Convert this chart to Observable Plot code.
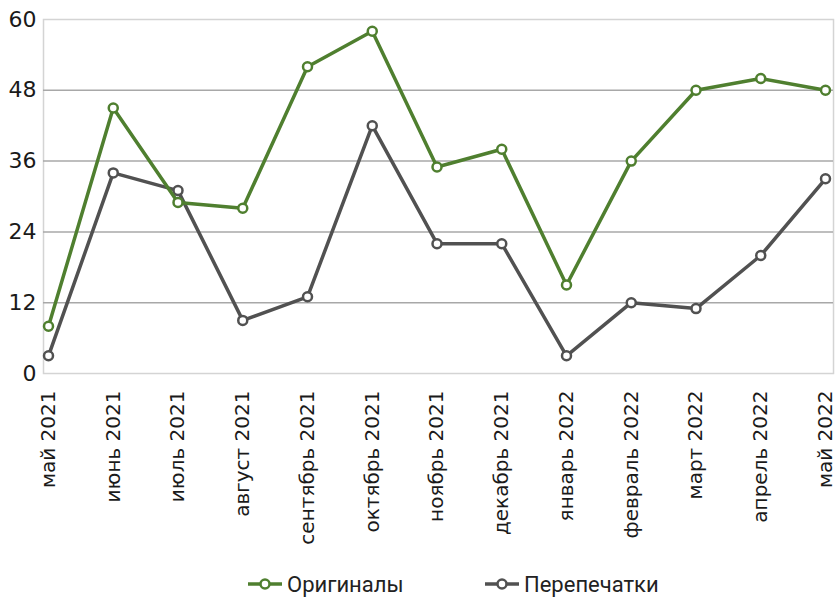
<!DOCTYPE html>
<html><head><meta charset="utf-8">
<script src="https://cdn.jsdelivr.net/npm/d3@7"></script>
<script src="https://cdn.jsdelivr.net/npm/@observablehq/plot@0.6"></script>
<style>
body{margin:0;background:#fff;font-family:"DejaVu Sans",sans-serif;overflow:hidden;}
#legend{position:relative;height:38px;font-family:Roboto,sans-serif;font-size:22px;color:#222;}
#legend span{position:absolute;top:0;display:inline-flex;align-items:center;gap:4px;height:38px;}
</style></head><body>
<div id="chart"></div>
<div id="legend"></div>
<script>
const months = ["май 2021","июнь 2021","июль 2021","август 2021","сентябрь 2021","октябрь 2021","ноябрь 2021","декабрь 2021","январь 2022","февраль 2022","март 2022","апрель 2022","май 2022"];
const originals = [8,45,29,28,52,58,35,38,15,36,48,50,48];
const reprints = [3,34,31,9,13,42,22,22,3,12,11,20,33];
const yTicks = [0,12,24,36,48,60];
const seriesNames = ["Оригиналы","Перепечатки"];
const colors = ["#4f7f2f","#515151"];

const data = [];
months.forEach((m,i)=>{
  data.push({month:m, value:originals[i], series:seriesNames[0]});
  data.push({month:m, value:reprints[i], series:seriesNames[1]});
});

const chart = Plot.plot({
  width: 837, height: 565,
  marginTop: 19, marginBottom: 192, marginLeft: 43, marginRight: 4,
  style: {fontFamily: "DejaVu Sans, sans-serif", color: "#1a1a1a"},
  x: {type: "point", domain: months, padding: 0, insetLeft: 5, insetRight: 8, round: false, label: null},
  y: {domain: [0,60], ticks: yTicks, label: null},
  marks: [
    Plot.frame({stroke: "#d4d4d4", strokeWidth: 1.5}),
    Plot.ruleY([12,24,36,48], {stroke: "#a8a8a8", strokeWidth: 1.5}),
    Plot.axisY({ticks: yTicks, tickSize: 0, tickPadding: 7, fontSize: 22, label: null}),
    Plot.axisX({tickRotate: -90, tickSize: 0, tickPadding: 17, fontSize: 20, label: null}),
    Plot.line(data.filter(d=>d.series===seriesNames[1]), {x: "month", y: "value", stroke: colors[1], strokeWidth: 3.5}),
    Plot.dot(data.filter(d=>d.series===seriesNames[1]), {x: "month", y: "value", r: 4.5, fill: "white", stroke: colors[1], strokeWidth: 2.5}),
    Plot.line(data.filter(d=>d.series===seriesNames[0]), {x: "month", y: "value", stroke: colors[0], strokeWidth: 3.5}),
    Plot.dot(data.filter(d=>d.series===seriesNames[0]), {x: "month", y: "value", r: 4.5, fill: "white", stroke: colors[0], strokeWidth: 2.5})
  ]
});
document.getElementById("chart").appendChild(chart);

const leg = document.getElementById("legend");
const legX = [247, 484];
seriesNames.forEach((n,i)=>{
  const s = document.createElement("span");
  s.style.left = legX[i] + "px";
  s.innerHTML = `<svg width="36" height="14"><line x1="1" y1="7" x2="35" y2="7" stroke="${colors[i]}" stroke-width="3.5"/><circle cx="18" cy="7" r="4.5" fill="white" stroke="${colors[i]}" stroke-width="2.5"/></svg>${n}`;
  leg.appendChild(s);
});
</script>
</body></html>
